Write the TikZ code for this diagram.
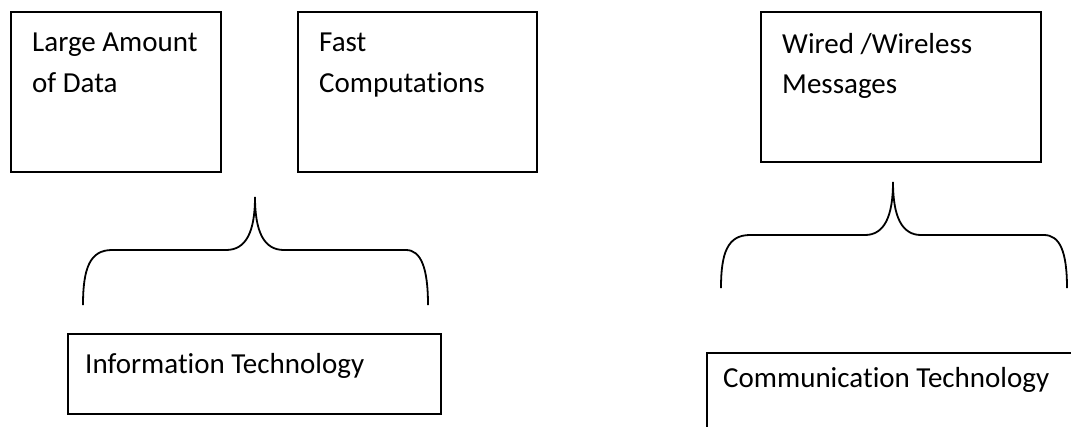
\documentclass[tikz,border=0pt]{standalone}
\usepackage{fontspec}
\setmainfont[Ligatures=NoCommon]{Carlito}
\usetikzlibrary{positioning, calc}

\tikzset{
  box/.style={draw, line width=1.8pt, rectangle, anchor=north west, inner sep=0pt},
  boxtext/.style={anchor=north west, inner sep=0pt, align=left,
    font=\fontsize{29}{40.5}\selectfont},
  brace/.style={line width=1.8pt},
}

\begin{document}
\begin{tikzpicture}[x=1pt, y=-1pt]
  \useasboundingbox (0,0) rectangle (1071,426);
  \clip (0,0) rectangle (1071,426);

  % Informacni technologie
  \node[box, minimum width=210pt, minimum height=160pt] (data) at (10,11) {};
  \node[box, minimum width=239pt, minimum height=160pt] (fast) at (297,11) {};
  \node[box, minimum width=373pt, minimum height=80pt] (info) at (67,333) {};
  \node[boxtext, below right=22pt and 22pt of data.north west] (datatext) {Large Amount\\of Data};
  \node[boxtext, below right=22pt and 22pt of fast.north west] (fasttext) {Fast\\Computations};
  \node[boxtext, below right=20pt and 18pt of info.north west] (infotext) {Information Technology};

  \coordinate (infotip) at (255,197);
  \draw[brace] (83,305) .. controls (83,268) and (90,250) .. (112,250) -- (226,250)
    .. controls (246,250) and (255,232) .. (infotip)
    .. controls (255,232) and (264,250) .. (284,250) -- (406,250)
    .. controls (421,250) and (428,268) .. (428,305);

  % Komunikacni technologie
  \node[box, minimum width=280pt, minimum height=150pt] (msg) at (760,11) {};
  \node[box, minimum width=380pt, minimum height=100pt] (comm) at (706,352) {};
  \node[boxtext, below right=22pt and 22pt of msg.north west] (msgtext) {Wired /Wireless\\Messages};
  \node[boxtext, below right=15pt and 17pt of comm.north west] (commtext) {Communication Technology};

  \coordinate (commtip) at (893,182);
  \draw[brace] (721,288) .. controls (721,252) and (728,235) .. (750,235) -- (865,235)
    .. controls (884,235) and (893,217) .. (commtip)
    .. controls (893,217) and (902,235) .. (921,235) -- (1044,235)
    .. controls (1060,235) and (1067,252) .. (1067,288);
\end{tikzpicture}
\end{document}
